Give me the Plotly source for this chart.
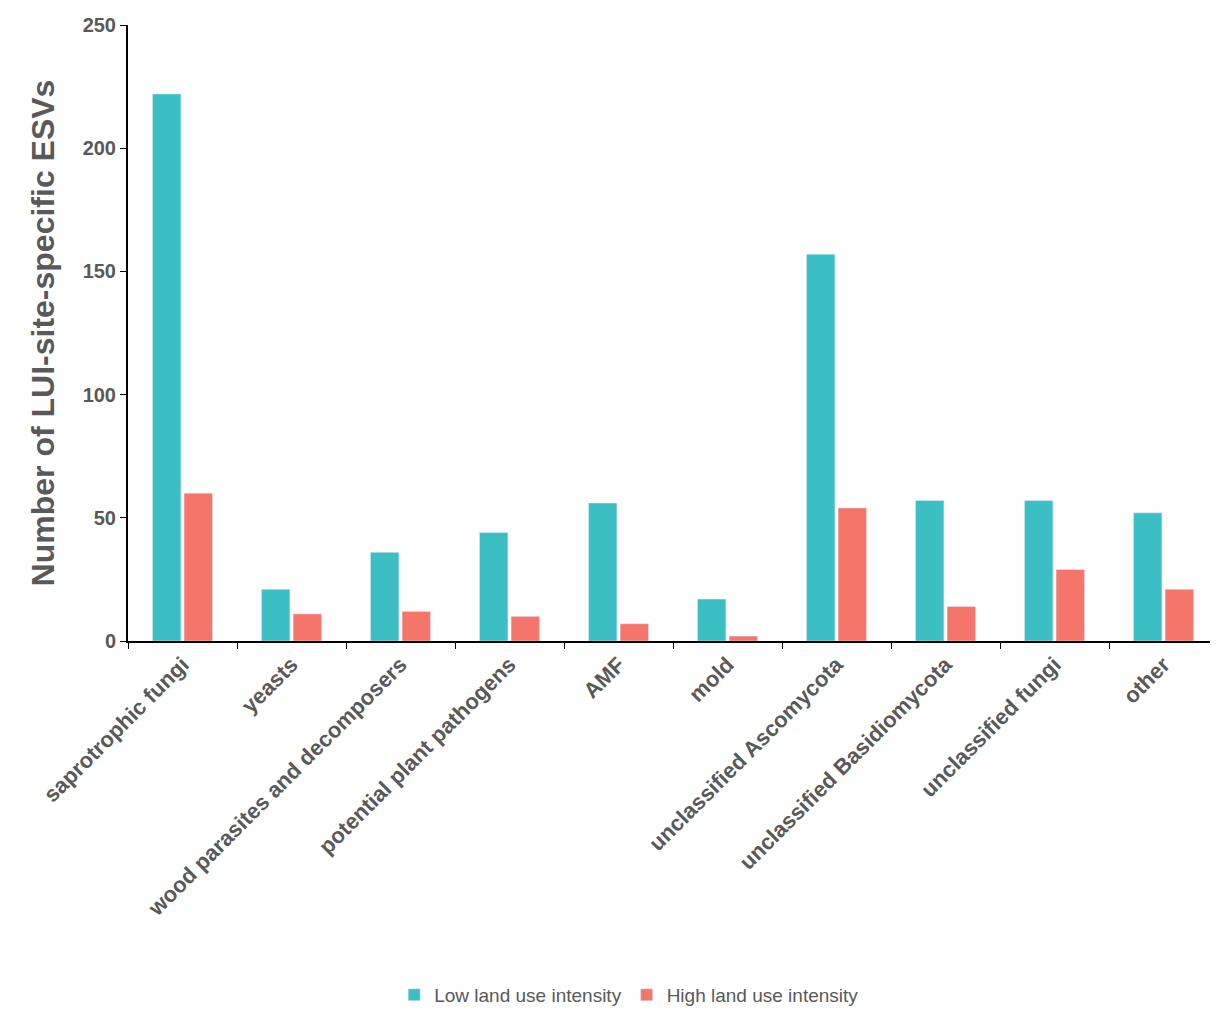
import plotly.graph_objects as go

categories = ["saprotrophic fungi", "yeasts", "wood parasites and decomposers",
              "potential plant pathogens", "AMF", "mold", "unclassified Ascomycota",
              "unclassified Basidiomycota", "unclassified fungi", "other"]
low_lui = [222, 21, 36, 44, 56, 17, 157, 57, 57, 52]
high_lui = [60, 11, 12, 10, 7, 2, 54, 14, 29, 21]

font_color = "#595959"
fig = go.Figure()
fig.add_trace(go.Bar(x=categories, y=low_lui, name="Low land use intensity",
                     marker_color="#3CBFC4"))
fig.add_trace(go.Bar(x=categories, y=high_lui, name="High land use intensity",
                     marker_color="#F5756B"))

fig.update_layout(
    width=1218, height=1011,
    paper_bgcolor="white", plot_bgcolor="white",
    margin=dict(l=120, r=8, t=17, b=378),
    barmode="group", bargap=0.42, bargroupgap=0.1,
    font=dict(family="Liberation Sans, Arial", color=font_color),
    legend=dict(orientation="h", x=0.51, xanchor="center", xref="container",
                y=0.005, yanchor="bottom", yref="container",
                font=dict(size=19, color=font_color)),
    xaxis=dict(showline=True, linecolor="black", linewidth=2, tickangle=-45,
               automargin=False,
               ticks="outside", tickson="boundaries", ticklen=6, tickcolor="black",
               tickfont=dict(size=22, weight="bold")),
    yaxis=dict(range=[0, 250], dtick=50, showline=True, linecolor="black", linewidth=2,
               automargin=False,
               ticks="outside", ticklen=6, tickcolor="black", showgrid=False,
               tickfont=dict(size=20, weight="bold"),
               title=dict(text="Number of LUI-site-specific ESVs",
                          font=dict(size=32, weight="bold"), standoff=18)),
)
fig.write_html("out.html")
